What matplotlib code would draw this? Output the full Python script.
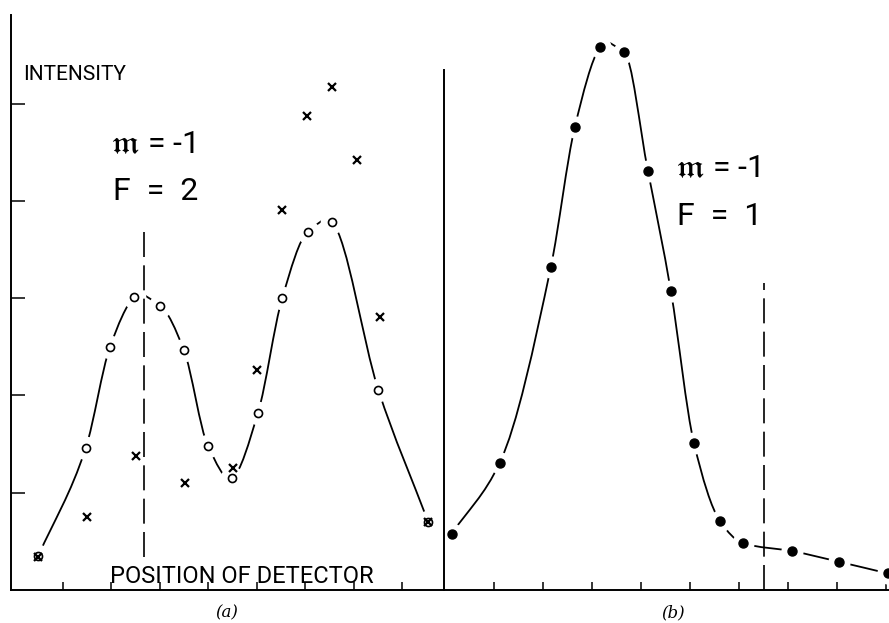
import numpy as np
import matplotlib.pyplot as plt
from matplotlib.path import Path
from matplotlib.patches import PathPatch

plt.rcParams['lines.scale_dashes'] = False
plt.rcParams['mathtext.fontset'] = 'stix'

# panel (a): open circles lie on the drawn curve, crosses are a second run
a_circle_x = [0.49, 1.47, 1.97, 2.47, 3.0, 3.49, 3.99, 4.48, 5.02, 5.52, 6.05, 6.55, 7.5, 8.53]
a_circle_y = [0.35, 1.46, 2.50, 3.01, 2.92, 2.47, 1.48, 1.15, 1.82, 3.00, 3.68, 3.78, 2.06, 0.70]
a_cross_x = [0.49, 1.49, 2.5, 3.52, 4.5, 5.0, 5.52, 6.03, 6.55, 7.06, 7.54, 8.53]
a_cross_y = [0.34, 0.75, 1.38, 1.10, 1.25, 2.26, 3.91, 4.87, 5.17, 4.42, 2.81, 0.70]
a_marker_x = 2.67          # dashed line in (a)
a_marker_span = (0.34, 3.75)

# panel (b): filled dots on the curve
b_dot_x = [0.14, 1.12, 2.16, 2.65, 3.16, 3.65, 4.14, 4.61, 5.08, 5.61, 6.08, 7.08, 8.04, 9.04]
b_dot_y = [0.58, 1.31, 3.32, 4.76, 5.58, 5.53, 4.31, 3.07, 1.51, 0.71, 0.48, 0.40, 0.29, 0.17]
b_marker_x = 6.51
b_marker_span = (0.0, 3.16)

a_xticks = [1, 2, 3, 4, 5, 6, 7, 8]
a_yticks = [1, 2, 3, 4, 5]
b_xticks = [1, 2, 3, 4, 5, 6, 7, 8, 9]

LABEL_FONT = ['Roboto', 'DejaVu Sans']


def smooth_path(x, y):
    # cubic hermite pieces through the points, handed to matplotlib as a bezier path
    x = np.asarray(x, float)
    y = np.asarray(y, float)
    h = np.diff(x)
    d = np.diff(y) / h
    m = np.gradient(y, x)
    for k in range(1, len(x) - 1):
        if d[k - 1] * d[k] > 0:
            # monotone stretch: weighted harmonic mean keeps it from wobbling
            w1 = 2 * h[k] + h[k - 1]
            w2 = h[k] + 2 * h[k - 1]
            m[k] = (w1 + w2) / (w1 / d[k - 1] + w2 / d[k])
    verts = [(x[0], y[0])]
    codes = [Path.MOVETO]
    for i in range(len(x) - 1):
        verts += [(x[i] + h[i] / 3, y[i] + m[i] * h[i] / 3),
                  (x[i + 1] - h[i] / 3, y[i + 1] - m[i + 1] * h[i] / 3),
                  (x[i + 1], y[i + 1])]
        codes += [Path.CURVE4] * 3
    return Path(verts, codes)


fig = plt.figure(figsize=(8.89, 6.23), dpi=100)
bottom = 33 / 623
height = 575 / 623
ax_a = fig.add_axes([11 / 889, bottom, 433 / 889, height])
ax_b = fig.add_axes([444 / 889, bottom, 445 / 889, height])

for ax in (ax_a, ax_b):
    ax.set_ylim(0, 5.91)
    for s in ('top', 'right'):
        ax.spines[s].set_visible(False)
    for s in ('left', 'bottom'):
        ax.spines[s].set_linewidth(1.4)
        ax.spines[s].set_zorder(10)
    ax.tick_params(direction='in', labelleft=False, labelbottom=False,
                   width=1.1, color='black')
    ax.patch.set_alpha(0)

ax_a.set_xlim(-0.072, 8.856)
ax_b.set_xlim(-0.02, 9.06)

ax_a.set_xticks(a_xticks)
ax_a.set_yticks(a_yticks)
ax_a.tick_params(axis='y', length=10)
ax_a.tick_params(axis='x', length=6)
ax_b.set_xticks(b_xticks)
ax_b.set_yticks([])
ax_b.tick_params(axis='x', length=6)
ax_b.spines['left'].set_bounds(0, 5.34)

# (a) curve with gaps at the circles
ax_a.add_patch(PathPatch(smooth_path(a_circle_x, a_circle_y), fill=False,
                         lw=1.3, color='black', zorder=2))
ax_a.plot(a_circle_x, a_circle_y, 'o', ms=17, mfc='white', mec='none', zorder=3)
ax_a.plot(a_circle_x, a_circle_y, 'o', ms=5.8, mfc='white', mec='black', mew=1.2, zorder=4)
ax_a.plot(a_cross_x, a_cross_y, 'x', ms=5.5, color='black', mew=1.6, zorder=5)
ax_a.vlines(a_marker_x, *a_marker_span, colors='black', lw=1.2,
            linestyles=(0, (18, 6)), zorder=5)

# (b) curve with gaps at the dots
ax_b.add_patch(PathPatch(smooth_path(b_dot_x, b_dot_y), fill=False,
                         lw=1.3, color='black', zorder=2))
ax_b.plot(b_dot_x, b_dot_y, 'o', ms=16, mfc='white', mec='none', zorder=3)
ax_b.plot(b_dot_x, b_dot_y, 'o', ms=6.5, color='black', zorder=4)
ax_b.vlines(b_marker_x, *b_marker_span, colors='black', lw=1.2,
            linestyles=(0, (18, 6)), zorder=5)

# lettering
ax_a.text(0.175, 5.24, 'INTENSITY', fontsize=15, family=LABEL_FONT,
          va='baseline', ha='left')
ax_a.text(1.97, 0.07, 'POSITION OF DETECTOR', fontsize=17, family=LABEL_FONT,
          va='baseline', ha='left')
ax_a.text(1.97, 4.49, r'$\mathfrak{m}$ = -1', fontsize=23, family=LABEL_FONT,
          va='baseline', ha='left')
ax_a.text(2.03, 4.01, 'F  =  2', fontsize=23, family=LABEL_FONT,
          va='baseline', ha='left')
ax_b.text(4.69, 4.24, r'$\mathfrak{m}$ = -1', fontsize=23, family=LABEL_FONT,
          va='baseline', ha='left')
ax_b.text(4.73, 3.75, 'F  =  1', fontsize=23, family=LABEL_FONT,
          va='baseline', ha='left')

fig.text(227 / 889, 1 - 613 / 623, '(a)', fontsize=12, family='DejaVu Serif',
         style='italic', ha='center', va='center')
fig.text(673 / 889, 1 - 613 / 623, '(b)', fontsize=12, family='DejaVu Serif',
         style='italic', ha='center', va='center')

fig.savefig('out.png', dpi=100)
